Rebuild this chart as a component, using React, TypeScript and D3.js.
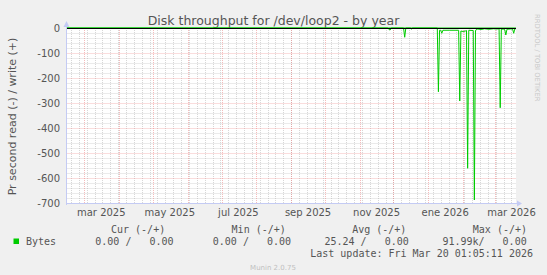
import React from 'react';
import * as d3 from 'd3';

const W = 547;
const H = 275;

const titleText = 'Disk throughput for /dev/loop2 - by year';
const yAxisLabel = 'Pr second read (-) / write (+)';
const rangeStart = '2025-02-13 01:05';
const rangeEnd = '2026-03-20 01:05';

// read series (plotted negative), daily averages
const readDates = [
  '2025-02-13', '2025-11-26', '2025-11-27', '2025-11-28', '2025-11-29',
  '2025-12-10', '2025-12-11', '2025-12-12', '2025-12-16', '2025-12-17', '2025-12-18',
  '2026-01-09', '2026-01-10', '2026-01-11', '2026-01-12', '2026-01-13', '2026-01-14',
  '2026-01-20', '2026-01-28', '2026-01-29', '2026-01-30', '2026-02-01', '2026-02-03',
  '2026-02-04', '2026-02-05', '2026-02-06', '2026-02-10', '2026-02-11', '2026-02-12',
  '2026-02-14', '2026-02-17', '2026-02-20', '2026-02-24', '2026-02-28', '2026-03-03',
  '2026-03-05', '2026-03-06', '2026-03-07', '2026-03-09', '2026-03-10', '2026-03-11',
  '2026-03-12', '2026-03-15', '2026-03-17', '2026-03-18', '2026-03-19', '2026-03-20',
];
const readValues = [
  0, 0, -6, -8, 0,
  0, -37, 0, 0, -4, 0,
  0, -255, -9, -9, -21, -9,
  -9, -9, -292, -12, -14, -12,
  -10, -561, -9, -10, -688, -9,
  -4, -6, -3, -5, -3, -4,
  -3, -319, -4, -5, -6, -28,
  -5, -4, -4, -21, -3, -3,
];
// write series (plotted positive)
const writeDates = ['2025-02-13', '2026-03-20'];
const writeValues = [0, 0];

const yTicks = [0, -100, -200, -300, -400, -500, -600, -700];
const xLabelMonths = ['2025-03-01', '2025-05-01', '2025-07-01', '2025-09-01', '2025-11-01', '2026-01-01', '2026-03-01'];
const xLabels = ['mar 2025', 'may 2025', 'jul 2025', 'sep 2025', 'nov 2025', 'ene 2026', 'mar 2026'];

const legendName = 'Bytes';
const legendHeaders = ['Cur (-/+)', 'Min (-/+)', 'Avg (-/+)', 'Max (-/+)'];
const legendValues = ['0.00 /   0.00', '0.00 /   0.00', '25.24 /   0.00', '91.99k/   0.00'];
const lastUpdate = 'Last update: Fri Mar 20 01:05:11 2026';
const footer = 'Munin 2.0.75';
const watermark = 'RRDTOOL / TOBI OETIKER';

const parseDay = d3.timeParse('%Y-%m-%d');
const parseFull = d3.timeParse('%Y-%m-%d %H:%M');

const PL = 66.5, PR = 516, PT = 28, PB = 203;
const GREEN = '#00cc00';
const TEXT = '#555555';
const AXIS = '#c4cbf4';
const MGRID = 'rgba(235,120,120,0.5)';
const GRID = 'rgba(175,175,175,0.5)';

export default function App() {
  const start = parseFull(rangeStart) as Date;
  const end = parseFull(rangeEnd) as Date;
  const x = d3.scaleTime().domain([start, end]).range([PL, PR]);
  const y = d3.scaleLinear().domain([-700, 0]).range([PB, PT]);
  const px = (v: number) => Math.round(v) + 0.5;

  const readPts = readDates.map((d, i) => ({ t: parseDay(d) as Date, v: readValues[i] }));
  const writePts = writeDates.map((d, i) => ({ t: parseDay(d) as Date, v: writeValues[i] }));
  const line = d3.line<{ t: Date; v: number }>()
    .x(d => Math.max(PL, Math.min(PR, x(d.t))))
    .y(d => y(d.v));

  const weeks = d3.timeMonday.range(start, end);
  const months = d3.timeMonth.range(start, end);
  const minorY = d3.range(-700, 1, 20).filter(v => v % 100 !== 0);

  const mono = "'DejaVu Sans Mono', monospace";
  const sans = "'DejaVu Sans', sans-serif";

  return (
    <svg width={W} height={H} style={{ display: 'block', position: 'absolute', left: 0, top: 0 }}>
      <rect x={0} y={0} width={W} height={H} fill="#f0f0f0" />
      <rect x={PL} y={PT} width={PR - PL} height={PB - PT} fill="#ffffff" />
      <text x={273.5} y={24.5} textAnchor="middle" fontFamily={sans} fontSize={12.5} fill={TEXT}>{titleText}</text>
      {/* minor grid */}
      {minorY.map(v => (
        <line key={'my' + v} x1={PL} x2={PR} y1={px(y(v))} y2={px(y(v))} stroke={GRID} strokeDasharray="1,1" />
      ))}
      {weeks.map((w, i) => (
        <line key={'mx' + i} x1={px(x(w))} x2={px(x(w))} y1={PT} y2={PB} stroke={GRID} strokeDasharray="1,1" />
      ))}
      {/* major grid */}
      {yTicks.map(v => (
        <line key={'gy' + v} x1={PL} x2={PR} y1={px(y(v))} y2={px(y(v))} stroke={MGRID} strokeDasharray="1,1" />
      ))}
      {months.map((m, i) => (
        <line key={'gx' + i} x1={px(x(m))} x2={px(x(m))} y1={PT} y2={PB} stroke={MGRID} strokeDasharray="1,1" />
      ))}
      {/* data */}
      <path d={line(writePts) || ''} fill="none" stroke={GREEN} strokeWidth={1} />
      <path d={line(readPts) || ''} fill="none" stroke={GREEN} strokeWidth={1} />
      <line x1={PL} x2={PR} y1={px(y(0))} y2={px(y(0))} stroke="#000000" strokeWidth={1} />
      {/* axes */}
      <line x1={PL} x2={PR + 2} y1={px(PB)} y2={px(PB)} stroke={AXIS} />
      <path d={`M${PR + 1},${px(PB) - 3} L${PR + 6},${px(PB)} L${PR + 1},${px(PB) + 3} Z`} fill={AXIS} />
      <line x1={PL} x2={PL} y1={PB + 2} y2={PT - 2} stroke={AXIS} />
      <path d={`M${PL - 3},${PT - 1} L${PL},${PT - 7} L${PL + 3},${PT - 1} Z`} fill={AXIS} />
      {/* y tick labels */}
      {yTicks.map(v => (
        <text key={'yl' + v} x={60} y={y(v) + 3.6} textAnchor="end" fontFamily={sans} fontSize={10} fill={TEXT}>{v}</text>
      ))}
      {/* x labels, centred mid-month like rrdtool */}
      {xLabelMonths.map((m, i) => {
        const t = d3.timeDay.offset(parseDay(m) as Date, 15);
        return (
          <text key={'xl' + i} x={x(t)} y={216} textAnchor="middle" fontFamily={sans} fontSize={10} fill={TEXT}>{xLabels[i]}</text>
        );
      })}
      <text transform={`translate(15.5,${(PT + PB) / 2 + 1}) rotate(-90)`} textAnchor="middle" fontFamily={sans} fontSize={11} fill={TEXT}>{yAxisLabel}</text>
      <text transform={`translate(534.5,14) rotate(90)`} fontFamily={sans} fontSize={6.8} fill="#c8c8c8">{watermark}</text>
      {/* legend */}
      {legendHeaders.map((h, i) => (
        <text key={'lh' + i} x={111 + i * 120.6} y={232.5} fontFamily={mono} fontSize={10} fill={TEXT} style={{ whiteSpace: 'pre' }}>{h}</text>
      ))}
      <rect x={13.5} y={238.5} width={5.5} height={5.5} fill={GREEN} />
      <text x={26} y={245} fontFamily={mono} fontSize={10} fill={TEXT}>{legendName}</text>
      {legendValues.map((v, i) => (
        <text key={'lv' + i} x={[95.3, 212.8, 324.5, 442.4][i]} y={245} fontFamily={mono} fontSize={10} fill={TEXT} style={{ whiteSpace: 'pre' }}>{v}</text>
      ))}
      <text x={533} y={257} textAnchor="end" fontFamily={mono} fontSize={10} fill={TEXT} style={{ whiteSpace: 'pre' }}>{lastUpdate}</text>
      <text x={273} y={270} textAnchor="middle" fontFamily={sans} fontSize={7} fill="#c0c0c0">{footer}</text>
    </svg>
  );
}
